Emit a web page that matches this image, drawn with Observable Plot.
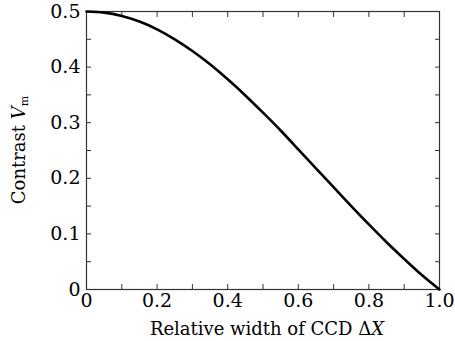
<!DOCTYPE html>
<html>
<head>
<meta charset="utf-8">
<script src="https://cdn.jsdelivr.net/npm/d3@7"></script>
<script src="https://cdn.jsdelivr.net/npm/@observablehq/plot@0.6"></script>
<style>
  html, body { margin: 0; padding: 0; background: #fff; }
  #chart svg { display: block; }
  #chart svg text { font-family: "DejaVu Serif", "Liberation Serif", serif; }
</style>
</head>
<body>
<div id="chart"></div>
<script>
const widthX = [0, 0.05, 0.1, 0.15, 0.2, 0.25, 0.3, 0.35, 0.4, 0.45, 0.5, 0.55, 0.6, 0.65, 0.7, 0.75, 0.8, 0.85, 0.9, 0.95, 1.0];
const contrast = [0.500, 0.498, 0.492, 0.482, 0.468, 0.450, 0.429, 0.405, 0.378, 0.349, 0.318, 0.286, 0.252, 0.218, 0.184, 0.150, 0.117, 0.085, 0.055, 0.026, 0.000];
const xTickLabels = [0, 0.2, 0.4, 0.6, 0.8, 1.0];
const xTicks = [0, 0.1, 0.2, 0.3, 0.4, 0.5, 0.6, 0.7, 0.8, 0.9, 1.0];
const yTickLabels = [0, 0.1, 0.2, 0.3, 0.4, 0.5];
const yTicks = [0, 0.05, 0.1, 0.15, 0.2, 0.25, 0.3, 0.35, 0.4, 0.45, 0.5];

const data = widthX.map((x, i) => ({x, y: contrast[i]}));
const fmt = d => d === 0 ? "0" : d.toFixed(1);
const font = "DejaVu Serif";

const chart = Plot.plot({
  width: 455,
  height: 341,
  marginLeft: 86,
  marginRight: 16,
  marginTop: 11,
  marginBottom: 52,
  style: {fontFamily: font, fontSize: "19px", background: "#fff", color: "#000"},
  x: {domain: [0, 1]},
  y: {domain: [0, 0.5]},
  marks: [
    Plot.axisX(xTicks, {anchor: "bottom", tickSize: -5, text: null, label: null, stroke: "#333"}),
    Plot.axisX(xTicks, {anchor: "top", tickSize: -5, text: null, label: null, stroke: "#333"}),
    Plot.axisY(yTicks, {anchor: "left", tickSize: -5, text: null, label: null, stroke: "#333"}),
    Plot.axisY(yTicks, {anchor: "right", tickSize: -5, text: null, label: null, stroke: "#333"}),
    Plot.axisX(xTickLabels, {anchor: "bottom", tickSize: 0, tickPadding: 4, tickFormat: fmt, label: null, fontSize: 19, fill: "#000"}),
    Plot.axisY(yTickLabels, {anchor: "left", tickSize: 0, tickPadding: 6, tickFormat: fmt, label: null, fontSize: 19, fill: "#000"}),
    Plot.frame({stroke: "#333", strokeWidth: 1.2}),
    Plot.line(data, {x: "x", y: "y", stroke: "#000", strokeWidth: 2.6, curve: "natural"})
  ]
});

document.getElementById("chart").appendChild(chart);

const svg = d3.select(chart);
// x axis label
const xl = svg.append("text")
  .attr("x", 267)
  .attr("y", 335)
  .attr("text-anchor", "middle")
  .attr("font-size", 18)
  .attr("fill", "#000");
xl.append("tspan").text("Relative width of CCD Δ");
xl.append("tspan").attr("font-style", "italic").text("X");

// y axis label
const yl = svg.append("text")
  .attr("transform", "translate(25,150) rotate(-90)")
  .attr("text-anchor", "middle")
  .attr("font-size", 18)
  .attr("fill", "#000");
yl.append("tspan").text("Contrast ");
yl.append("tspan").attr("font-style", "italic").text("V");
yl.append("tspan").attr("font-size", 11).attr("dy", 3).text("m");
</script>
</body>
</html>
